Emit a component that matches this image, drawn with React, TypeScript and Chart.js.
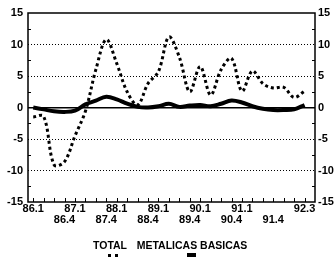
import React, { useEffect, useRef } from "react";
import { Chart, registerables } from "chart.js";

Chart.register(...registerables);

const quarters = [
  "86.1", "86.2", "86.3", "86.4",
  "87.1", "87.2", "87.3", "87.4",
  "88.1", "88.2", "88.3", "88.4",
  "89.1", "89.2", "89.3", "89.4",
  "90.1", "90.2", "90.3", "90.4",
  "91.1", "91.2", "91.3", "91.4",
  "92.1", "92.2", "92.3",
];

const totalValues = [
  -1.5, -1.4, -9.1, -8.6,
  -4.5, -0.6, 6.0, 10.8,
  7.0, 2.5, 0.4, 3.8,
  5.7, 11.2, 8.0, 2.5,
  6.5, 2.0, 6.0, 7.8,
  2.6, 5.8, 3.8, 3.1,
  3.2, 1.6, 2.6,
];

const metalicasValues = [
  0.0, -0.3, -0.6, -0.7,
  -0.5, 0.5, 1.1, 1.7,
  1.3, 0.6, 0.1, 0.0,
  0.2, 0.6, 0.1, 0.3,
  0.4, 0.2, 0.6, 1.1,
  0.8, 0.2, -0.2, -0.4,
  -0.4, -0.3, 0.4,
];

const seriesNames = ["TOTAL", "METALICAS BASICAS"];
const firstRowLabels = ["86.1", "87.1", "88.1", "89.1", "90.1", "91.1", "92.3"];
const secondRowLabels = ["86.4", "87.4", "88.4", "89.4", "90.4", "91.4"];
const yMin = -15;
const yMax = 15;
const yStep = 5;
const yMinorTicks = [-12.5, -7.5, -2.5, 2.5, 7.5, 12.5];
const dottedGridValues = [-10, -5, 5, 10];

const FONT = "'Liberation Sans', Arial, sans-serif";

const framePlugin = {
  id: "frameAndTicks",
  afterDatasetsDraw(chart: any) {
    const { ctx, chartArea } = chart;
    const x = chart.scales.x;
    const y = chart.scales.y;
    ctx.save();
    ctx.strokeStyle = "#000";
    ctx.lineWidth = 1.5;
    ctx.setLineDash([]);
    ctx.strokeRect(chartArea.left, chartArea.top, chartArea.right - chartArea.left, chartArea.bottom - chartArea.top);
    ctx.lineWidth = 1;
    ctx.beginPath();
    yMinorTicks.forEach((v) => {
      const py = Math.round(y.getPixelForValue(v)) + 0.5;
      ctx.moveTo(chartArea.left, py);
      ctx.lineTo(chartArea.left + 3, py);
      ctx.moveTo(chartArea.right, py);
      ctx.lineTo(chartArea.right - 3, py);
    });
    quarters.forEach((_, i) => {
      const px = Math.round(x.getPixelForValue(i)) + 0.5;
      ctx.moveTo(px, chartArea.bottom);
      ctx.lineTo(px, chartArea.bottom - 4);
    });
    ctx.stroke();
    ctx.restore();
  },
};

export default function App() {
  const canvasRef = useRef<HTMLCanvasElement | null>(null);

  useEffect(() => {
    if (!canvasRef.current) return;
    const tickFont = { family: FONT, size: 11, weight: "bold" as const, lineHeight: 1.0 };
    const chart = new Chart(canvasRef.current, {
      type: "line",
      data: {
        datasets: [
          {
            label: seriesNames[0],
            data: quarters.map((_, i) => ({ x: i, y: totalValues[i] })),
            borderColor: "#000",
            borderWidth: 3,
            borderDash: [3, 3],
            borderCapStyle: "butt",
            pointRadius: 0,
            tension: 0.35,
            fill: false,
          },
          {
            label: seriesNames[1],
            data: quarters.map((_, i) => ({ x: i, y: metalicasValues[i] })),
            borderColor: "#000",
            borderWidth: 4,
            pointRadius: 0,
            tension: 0.35,
            fill: false,
          },
        ],
      },
      options: {
        animation: false,
        responsive: false,
        devicePixelRatio: 1,
        layout: { padding: { top: 13, left: 0, right: 0, bottom: 0 } },
        plugins: {
          legend: { display: false },
          tooltip: { enabled: false },
        },
        scales: {
          x: {
            type: "linear",
            min: -0.5,
            max: 27,
            afterFit: (s: any) => {
              s.height = 55;
            },
            grid: { display: false, drawTicks: false },
            border: { display: false },
            ticks: {
              stepSize: 1,
              autoSkip: false,
              includeBounds: false,
              maxRotation: 0,
              padding: 1,
              color: "#000",
              font: tickFont,
              callback: (v: any) => {
                const q = quarters[v as number];
                if (!q) return "";
                if (firstRowLabels.includes(q)) return [q, ""];
                if (secondRowLabels.includes(q)) return ["", q];
                return "";
              },
            },
          },
          y: {
            min: yMin,
            max: yMax,
            position: "left",
            afterFit: (s: any) => {
              s.width = 28;
            },
            grid: {
              drawTicks: false,
              color: (c: any) =>
                c.tick && (c.tick.value === 0 || dottedGridValues.includes(c.tick.value)) ? "#000" : "rgba(0,0,0,0)",
              lineWidth: (c: any) => (c.tick && c.tick.value === 0 ? 1.5 : 1),
            },
            border: {
              display: false,
              dash: (c: any) => (c.tick && c.tick.value === 0 ? [] : [1, 2]),
            } as any,
            ticks: { stepSize: yStep, padding: 5, color: "#000", font: tickFont },
          },
          y2: {
            min: yMin,
            max: yMax,
            position: "right",
            afterFit: (s: any) => {
              s.width = 21;
            },
            grid: { drawOnChartArea: false, drawTicks: false },
            border: { display: false },
            ticks: { stepSize: yStep, padding: 3, color: "#000", font: tickFont },
          },
        },
      },
      plugins: [framePlugin],
    } as any);
    return () => chart.destroy();
  }, []);

  const legendText: React.CSSProperties = {
    position: "absolute",
    top: 240,
    transform: "translateX(-50%)",
    fontFamily: FONT,
    fontWeight: "bold",
    fontSize: 10.5,
    lineHeight: "11px",
    whiteSpace: "nowrap",
    color: "#000",
  };

  return (
    <div style={{ position: "fixed", left: 0, top: 0, width: 336, height: 257, background: "#fff", overflow: "hidden" }}>
      <canvas ref={canvasRef} width={336} height={257} style={{ display: "block", width: 336, height: 257 }} />
      <div style={{ ...legendText, left: 110 }}>{seriesNames[0]}</div>
      <div style={{ ...legendText, left: 192 }}>{seriesNames[1]}</div>
      <div style={{ position: "absolute", left: 108, top: 254, width: 10, borderTop: "3px dotted #000" }} />
      <div style={{ position: "absolute", left: 187, top: 253, width: 9, height: 4, background: "#000" }} />
    </div>
  );
}
